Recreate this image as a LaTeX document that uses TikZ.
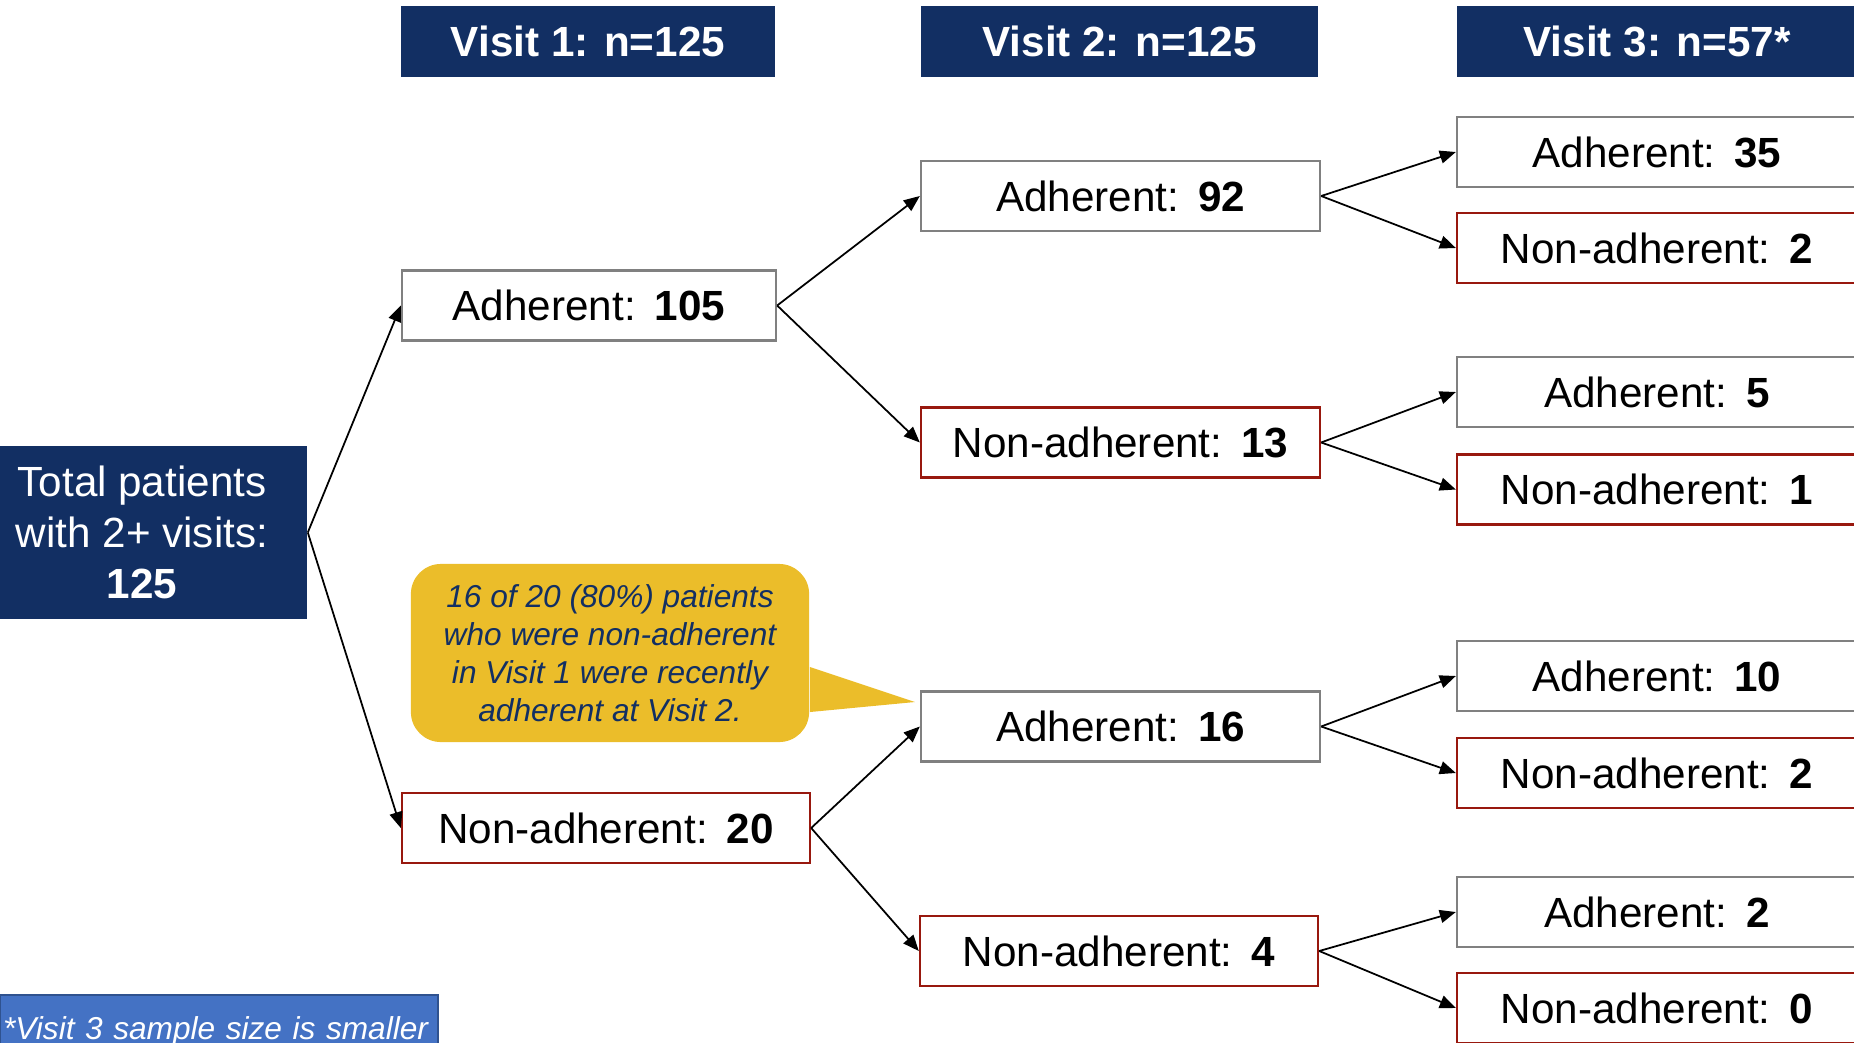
\documentclass[tikz,border=0pt]{standalone}
\usepackage{fontspec}
\setmainfont{Liberation Sans}
\usetikzlibrary{arrows.meta}

\definecolor{navy}{RGB}{18,47,99}
\definecolor{boxgray}{RGB}{128,128,128}
\definecolor{nonred}{RGB}{152,24,14}
\definecolor{gold}{RGB}{235,189,42}
\definecolor{notefill}{RGB}{68,114,196}
\definecolor{noteedge}{RGB}{47,82,143}

\newcommand{\cnt}[2]{#1:\hspace{0.45em}\textbf{#2}}

\tikzset{
  hdr/.style={fill=navy, text=white, font=\bfseries\fontsize{12}{14}\selectfont,
    minimum height=0.71cm, inner sep=0pt},
  adh/.style={draw=boxgray, line width=0.6pt, fill=white, minimum height=0.7cm,
    inner sep=0pt, font=\fontsize{12}{14}\selectfont},
  nonadh/.style={adh, draw=nonred},
  link/.style={-{Triangle[length=1.6mm,width=1.3mm]}, line width=0.5pt},
}

\begin{document}
\begin{tikzpicture}[x=0.01cm, y=-0.01cm]
    \useasboundingbox (0,0) rectangle (1854,1042);
    \clip (0,0) rectangle (1854,1042);

    % Kopfzeilen
    \node[hdr, minimum width=3.74cm] (h1) at (588,41.5) {Visit 1: n=125};
    \node[hdr, minimum width=3.97cm] (h2) at (1119.5,41.5) {Visit 2: n=125};
    \node[hdr, minimum width=4.00cm] (h3) at (1657,41.5) {Visit 3: n=57*};

    % Ausgangsknoten
    \node[fill=navy, text=white, minimum width=3.30cm, minimum height=1.73cm, align=center,
          font=\fontsize{12}{14.5}\selectfont] (total) at (142,532.5)
          {Total patients\\with 2+ visits:\\\textbf{125}};

    % Besuch 1
    \node[adh, minimum width=3.74cm] (a1) at (589,305.5) {\cnt{Adherent}{105}};
    \node[nonadh, minimum width=4.08cm] (n1) at (606,828) {\cnt{Non-adherent}{20}};

    % Besuch 2
    \node[adh, minimum width=3.99cm] (a1a) at (1120.5,196) {\cnt{Adherent}{92}};
    \node[nonadh, minimum width=3.99cm] (a1n) at (1120.5,442.5) {\cnt{Non-adherent}{13}};
    \node[adh, minimum width=3.99cm] (n1a) at (1120.5,726.5) {\cnt{Adherent}{16}};
    \node[nonadh, minimum width=3.98cm] (n1n) at (1119,951) {\cnt{Non-adherent}{4}};

    % Besuch 3
    \node[adh, minimum width=4.00cm] (a1aa) at (1657,152) {\cnt{Adherent}{35}};
    \node[nonadh, minimum width=4.00cm] (a1an) at (1657,248) {\cnt{Non-adherent}{2}};
    \node[adh, minimum width=4.00cm] (a1na) at (1657,392) {\cnt{Adherent}{5}};
    \node[nonadh, minimum width=4.00cm] (a1nn) at (1657,489.5) {\cnt{Non-adherent}{1}};
    \node[adh, minimum width=4.00cm] (n1aa) at (1657,676) {\cnt{Adherent}{10}};
    \node[nonadh, minimum width=4.00cm] (n1an) at (1657,773) {\cnt{Non-adherent}{2}};
    \node[adh, minimum width=4.00cm] (n1na) at (1657,912) {\cnt{Adherent}{2}};
    \node[nonadh, minimum width=4.00cm] (n1nn) at (1657,1008) {\cnt{Non-adherent}{0}};

    % Pfeile
    \draw[link] (total.east) -- (a1.west);
    \draw[link] (total.east) -- (n1.west);
    \draw[link] (a1.east) -- (a1a.west);
    \draw[link] (a1.east) -- (a1n.west);
    \draw[link] (n1.east) -- (n1a.west);
    \draw[link] (n1.east) -- (n1n.west);
    \draw[link] (a1a.east) -- (a1aa.west);
    \draw[link] (a1a.east) -- (a1an.west);
    \draw[link] (a1n.east) -- (a1na.west);
    \draw[link] (a1n.east) -- (a1nn.west);
    \draw[link] (n1a.east) -- (n1aa.west);
    \draw[link] (n1a.east) -- (n1an.west);
    \draw[link] (n1n.east) -- (n1na.west);
    \draw[link] (n1n.east) -- (n1nn.west);

    % Sprechblase
    \coordinate (tip) at (915,702);
    \node[fill=gold, rounded corners=0.3cm, minimum width=3.98cm, minimum height=1.78cm,
          align=center, text=navy, font=\itshape\fontsize{9}{10.8}\selectfont] (callout) at (610,653)
          {16 of 20 (80\%) patients\\who were non-adherent\\in Visit 1 were recently\\adherent at Visit 2.};
    \fill[gold] ([yshift=-0.14cm]callout.east) -- (tip) -- ([yshift=-0.59cm]callout.east) -- cycle;

    % Fussnote
    \node[draw=noteedge, fill=notefill, line width=0.6pt, anchor=north west,
          minimum height=0.72cm, text=white, inner xsep=0.03cm, text width=4.32cm, align=left,
          font=\itshape\fontsize{9}{11}\selectfont] (note) at (-1,994)
          {*Visit 3 sample size is smaller};
\end{tikzpicture}
\end{document}
